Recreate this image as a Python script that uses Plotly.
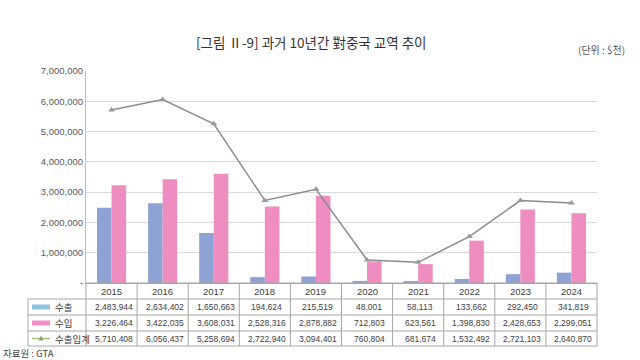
import plotly.graph_objects as go

years = ['2015', '2016', '2017', '2018', '2019', '2020', '2021', '2022', '2023', '2024']
exports = [2483944, 2634402, 1650663, 194624, 215519, 48001, 58113, 133662, 292450, 341819]
imports = [3226464, 3422035, 3608031, 2528316, 2878882, 712803, 623561, 1398830, 2428653, 2299051]
totals = [5710408, 6056437, 5258694, 2722940, 3094401, 760804, 681674, 1532492, 2721103, 2640870]
row_names = ['수출', '수입', '수출입계']
y_ticks = [0, 1000000, 2000000, 3000000, 4000000, 5000000, 6000000, 7000000]
title_text = '[그림 Ⅱ-9] 과거 10년간 對중국 교역 추이'
unit_text = '(단위 : $천)'
source_text = '자료원 : GTA'

W, H = 640, 360
L, R, T, B = 86, 43, 71, 77
PW, PH = W - L - R, H - T - B

def px_y(py):
    return (H - B - py) / PH

def px_x(px):
    return (px - L) / PW

BAR_BLUE = '#8EA2D4'
BAR_PINK = '#EE8DBF'
LINE_GRAY = '#8C8C8C'
GRID = '#D9D9D9'
BORDER = '#A6A6A6'
TXT = '#404040'
NUMFONT = 'Liberation Sans, Arial, sans-serif'
KFONT = 'Noto Sans CJK KR, sans-serif'

fig = go.Figure()
fig.add_bar(x=years, y=exports, name=row_names[0], marker_color=BAR_BLUE, marker_line_width=0)
fig.add_bar(x=years, y=imports, name=row_names[1], marker_color=BAR_PINK, marker_line_width=0)
fig.add_scatter(x=years, y=totals, name=row_names[2], mode='lines+markers',
                line=dict(color=LINE_GRAY, width=1.5),
                marker=dict(symbol='triangle-up', size=6, color='#9A9A9A'))

fig.update_layout(
    width=W, height=H, margin=dict(l=L, r=R, t=T, b=B, pad=0),
    paper_bgcolor='white', plot_bgcolor='white',
    barmode='group', bargap=0.43, bargroupgap=0,
    showlegend=False,
    xaxis=dict(type='category', range=[-0.5, 9.5], showticklabels=False, ticks='',
               showgrid=False, showline=True, linecolor=BORDER, linewidth=1, zeroline=False),
    yaxis=dict(range=[0, 7000000], tickvals=y_ticks,
               ticktext=['-' if v == 0 else f'{v:,}' for v in y_ticks],
               showgrid=True, gridcolor=GRID, gridwidth=1, zeroline=False,
               showline=True, linecolor='#BFBFBF', linewidth=1, ticks='', ticklen=0,
               tickfont=dict(family='Liberation Sans, Arial, sans-serif', size=9.5, color='#595959')),
    font=dict(family=KFONT, color=TXT),
)

# Title and unit
fig.add_annotation(text=title_text, xref='paper', yref='paper', x=px_x(311), y=px_y(42),
                   xanchor='center', yanchor='middle', showarrow=False,
                   font=dict(family=KFONT, size=13.5, color='#333333'))
fig.add_annotation(text=unit_text, xref='paper', yref='paper', x=px_x(627), y=px_y(50),
                   xanchor='right', yanchor='middle', showarrow=False,
                   font=dict(family=KFONT, size=10, color='#555555'))
fig.add_annotation(text=source_text, xref='paper', yref='paper', x=px_x(1), y=px_y(353),
                   xanchor='left', yanchor='middle', showarrow=False,
                   font=dict(family=KFONT, size=9.5, color='#444444'))

# Data table below the chart
row_edges_px = [283, 299, 315, 331, 346]
label_left_px = 28
row_y = [px_y(p) for p in row_edges_px]
label_left = px_x(label_left_px)

# horizontal lines
fig.add_shape(type='line', xref='paper', yref='paper', x0=0, x1=1, y0=row_y[0], y1=row_y[0],
              line=dict(color=BORDER, width=1))
for yy in row_y[1:]:
    fig.add_shape(type='line', xref='paper', yref='paper', x0=label_left, x1=1, y0=yy, y1=yy,
                  line=dict(color=BORDER, width=1))
# vertical lines
fig.add_shape(type='line', xref='paper', yref='paper', x0=0, x1=0, y0=row_y[0], y1=row_y[-1],
              line=dict(color=BORDER, width=1))
fig.add_shape(type='line', xref='paper', yref='paper', x0=1, x1=1, y0=row_y[0], y1=row_y[-1],
              line=dict(color=BORDER, width=1))
fig.add_shape(type='line', xref='paper', yref='paper', x0=label_left, x1=label_left,
              y0=row_y[1], y1=row_y[-1], line=dict(color=BORDER, width=1))
for i in range(1, len(years)):
    fig.add_shape(type='line', xref='x', yref='paper', x0=i - 0.5, x1=i - 0.5,
                  y0=row_y[0], y1=row_y[-1], line=dict(color=BORDER, width=1))

# header years
hdr_mid = (row_y[0] + row_y[1]) / 2
for i, yr in enumerate(years):
    fig.add_annotation(text=yr, xref='x', yref='paper', x=i, y=hdr_mid, showarrow=False,
                       xanchor='center', yanchor='middle',
                       font=dict(family=NUMFONT, size=9.5, color=TXT))

# values
series = [exports, imports, totals]
for r, vals in enumerate(series):
    mid = (row_y[r + 1] + row_y[r + 2]) / 2
    for i, v in enumerate(vals):
        fig.add_annotation(text=f'{v:,}', xref='x', yref='paper', x=i, y=mid, showarrow=False,
                           xanchor='center', yanchor='middle', xshift=2,
                           font=dict(family=NUMFONT, size=8.5, color=TXT))
    # row label
    fig.add_annotation(text=row_names[r], xref='paper', yref='paper', x=px_x(53), y=mid,
                       showarrow=False, xanchor='left', yanchor='middle',
                       font=dict(family=KFONT, size=9.5, color=TXT))

# legend keys in label column
m0 = (row_y[1] + row_y[2]) / 2
m1 = (row_y[2] + row_y[3]) / 2
m2 = (row_y[3] + row_y[4]) / 2
h = 2.5 / PH
fig.add_shape(type='rect', xref='paper', yref='paper', x0=px_x(32), x1=px_x(50),
              y0=m0 - h, y1=m0 + h, line_width=0, fillcolor='#8FC3E0')
fig.add_shape(type='rect', xref='paper', yref='paper', x0=px_x(32), x1=px_x(50),
              y0=m1 - h, y1=m1 + h, line_width=0, fillcolor='#F28DC6')
fig.add_shape(type='line', xref='paper', yref='paper', x0=px_x(32), x1=px_x(50),
              y0=m2, y1=m2, line=dict(color='#A9C07A', width=1.5))
fig.add_shape(type='path', xref='paper', yref='paper',
              path=f'M {px_x(38.5)} {m2 - 2/PH} L {px_x(43.5)} {m2 - 2/PH} L {px_x(41)} {m2 + 3/PH} Z',
              line_width=0, fillcolor='#8FA06A')

fig.write_html('out.html', config={'displayModeBar': False},
               post_script="document.body.style.margin='0';")
